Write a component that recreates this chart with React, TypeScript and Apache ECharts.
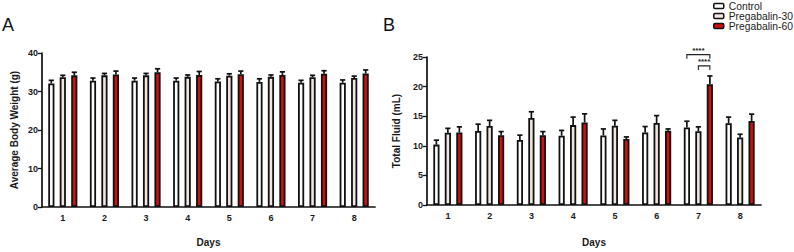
import React, { useEffect, useRef } from "react";
import * as echarts from "echarts";

const days = ["1", "2", "3", "4", "5", "6", "7", "8"];
const seriesNames = ["Control", "Pregabalin-30", "Pregabalin-60"];

// Panel A: Average Body Weight (g)
const weightControl = [32.1, 32.8, 32.8, 32.8, 32.6, 32.5, 32.3, 32.3];
const weightControlErr = [0.8, 0.7, 0.7, 0.7, 0.7, 0.8, 0.6, 0.7];
const weightP30 = [33.7, 34.2, 34.2, 33.8, 34.1, 33.8, 33.7, 33.5];
const weightP30Err = [0.5, 0.5, 0.5, 0.5, 0.5, 0.5, 0.5, 0.5];
const weightP60 = [34.2, 34.4, 35.0, 34.3, 34.5, 34.3, 34.6, 34.7];
const weightP60Err = [0.8, 0.9, 0.9, 0.9, 0.8, 0.8, 0.8, 0.9];

// Panel B: Total Fluid (mL)
const fluidControl = [10.2, 12.5, 11.0, 11.7, 11.75, 12.25, 13.1, 13.8];
const fluidControlErr = [0.75, 1.15, 0.8, 0.9, 1.1, 1.0, 1.05, 1.05];
const fluidP30 = [12.2, 13.35, 14.7, 13.5, 13.4, 13.85, 12.45, 11.4];
const fluidP30Err = [0.75, 0.95, 1.05, 1.35, 0.9, 1.25, 0.75, 0.55];
const fluidP60 = [12.25, 11.8, 11.8, 13.95, 11.15, 12.55, 20.4, 14.2];
const fluidP60Err = [0.95, 0.6, 0.6, 1.45, 0.35, 0.3, 1.4, 1.15];

// significance brackets on panel B: [dayIndex, fromGroup, toGroup, level, tickEnd, label]
const brackets: [number, number, number, number, number, string][] = [
  [6, 0, 2, 25.4, 24.7, "****"],
  [6, 1, 2, 23.5, 22.8, "****"],
];

const colors = ["#ffffff", "#f3e5e2", "#d10f0f"];
const FONT = "'Liberation Sans', Arial, sans-serif";
const BAR_W = 6.2;
const BAR_STEP = 11.5;

function errRender(offset: number) {
  return (params: any, api: any) => {
    const x = api.value(0);
    const v = api.value(1);
    const e = api.value(2);
    const p0 = api.coord([x, v]);
    const p1 = api.coord([x, v + e]);
    const cx = p0[0] + offset;
    return {
      type: "group",
      children: [
        { type: "line", shape: { x1: cx, y1: p0[1], x2: cx, y2: p1[1] }, style: { stroke: "#111", lineWidth: 1.7 } },
        { type: "line", shape: { x1: cx - 2.6, y1: p1[1], x2: cx + 2.6, y2: p1[1] }, style: { stroke: "#111", lineWidth: 1.7 } },
      ],
    };
  };
}

function bracketRender(params: any, api: any) {
  const d = api.value(0);
  const g1 = api.value(1);
  const g2 = api.value(2);
  const lv = api.value(3);
  const te = api.value(4);
  const p = api.coord([d, lv]);
  const q = api.coord([d, te]);
  const x1 = p[0] + (g1 - 1) * BAR_STEP;
  const x2 = p[0] + (g2 - 1) * BAR_STEP;
  return {
    type: "group",
    children: [
      { type: "polyline", shape: { points: [[x1, q[1]], [x1, p[1]], [x2, p[1]], [x2, q[1]]] }, style: { stroke: "#222", lineWidth: 1.1, fill: null } },
      {
        type: "text",
        style: { text: brackets[params.dataIndex][5], x: (x1 + x2) / 2, y: p[1] - 0.5, align: "center", verticalAlign: "bottom", font: `bold 8px ${FONT}`, fill: "#222" },
      },
    ],
  };
}

function makeBars(vals: number[][], errs: number[][], axisIndex: number) {
  const out: any[] = [];
  vals.forEach((v, k) => {
    out.push({
      type: "bar",
      name: seriesNames[k],
      xAxisIndex: axisIndex,
      yAxisIndex: axisIndex,
      data: v,
      barWidth: BAR_W,
      barGap: ((BAR_STEP - BAR_W) / BAR_W * 100).toFixed(0) + "%",
      itemStyle: { color: colors[k], borderColor: "#111", borderWidth: 1.8 },
      z: 2,
    });
  });
  errs.forEach((e, k) => {
    out.push({
      type: "custom",
      xAxisIndex: axisIndex,
      yAxisIndex: axisIndex,
      renderItem: errRender((k - 1) * BAR_STEP),
      data: e.map((x, i) => [i, vals[k][i], x]),
      encode: { x: 0, y: 1 },
      z: 3,
      silent: true,
    });
  });
  return out;
}

const axisLine = { lineStyle: { color: "#111", width: 1.7 } };
const tickLab = { color: "#1a1a1a", fontFamily: FONT, fontWeight: "bold" as const, fontSize: 9 };
const nameStyle = { color: "#1a1a1a", fontFamily: FONT, fontWeight: "bold" as const, fontSize: 10 };

export default function App() {
  const ref = useRef<HTMLDivElement>(null);
  useEffect(() => {
    if (!ref.current) return;
    const chart = echarts.init(ref.current, undefined, { renderer: "svg" });
    const xAxisCommon = {
      type: "category" as const,
      data: days,
      boundaryGap: true,
      axisLine,
      axisTick: { alignWithLabel: true, length: 4, lineStyle: { color: "#111", width: 1.3 } },
      axisLabel: { ...tickLab, margin: 6 },
      name: "Days",
      nameLocation: "middle" as const,
      nameTextStyle: nameStyle,
    };
    const yAxisCommon = {
      type: "value" as const,
      min: 0,
      splitLine: { show: false },
      axisLine: { show: true, ...axisLine },
      axisTick: { show: true, length: 4, lineStyle: { color: "#111", width: 1.3 } },
      axisLabel: { ...tickLab, margin: 4 },
      nameLocation: "middle" as const,
      nameTextStyle: nameStyle,
    };
    const bracketData = brackets.map((b) => [b[0], b[1], b[2], b[3], b[4]]);
    chart.setOption({
      animation: false,
      legend: {
        orient: "vertical",
        left: 713,
        top: 1,
        itemWidth: 10,
        itemHeight: 5,
        itemGap: 0,
        data: seriesNames,
        textStyle: { fontFamily: FONT, fontSize: 10.3, color: "#222" },
        itemStyle: { borderColor: "#111", borderWidth: 1.5 },
        padding: 0,
      },
      graphic: [
        { type: "text", left: 2, top: 16, style: { text: "A", font: `18px ${FONT}`, fill: "#111" } },
        { type: "text", left: 383, top: 16, style: { text: "B", font: `18px ${FONT}`, fill: "#111" } },
      ],
      grid: [
        { left: 42, right: 419, top: 53, bottom: 41 },
        { left: 427, right: 33, top: 57, bottom: 38 },
      ],
      xAxis: [
        { ...xAxisCommon, gridIndex: 0, nameGap: 30 },
        { ...xAxisCommon, gridIndex: 1, nameGap: 32 },
      ],
      yAxis: [
        { ...yAxisCommon, gridIndex: 0, max: 40, interval: 10, name: "Average Body Weight (g)", nameGap: 23 },
        { ...yAxisCommon, gridIndex: 1, max: 25, interval: 5, name: "Total Fluid (mL)", nameGap: 26 },
      ],
      series: [
        ...makeBars([weightControl, weightP30, weightP60], [weightControlErr, weightP30Err, weightP60Err], 0),
        ...makeBars([fluidControl, fluidP30, fluidP60], [fluidControlErr, fluidP30Err, fluidP60Err], 1),
        {
          type: "custom",
          xAxisIndex: 1,
          yAxisIndex: 1,
          renderItem: bracketRender,
          data: bracketData,
          encode: { x: 0, y: 3 },
          clip: false,
          z: 4,
          silent: true,
        },
      ],
    });
    return () => chart.dispose();
  }, []);
  return <div ref={ref} style={{ width: 794, height: 252, position: "absolute", left: 0, top: 0 }} />;
}
